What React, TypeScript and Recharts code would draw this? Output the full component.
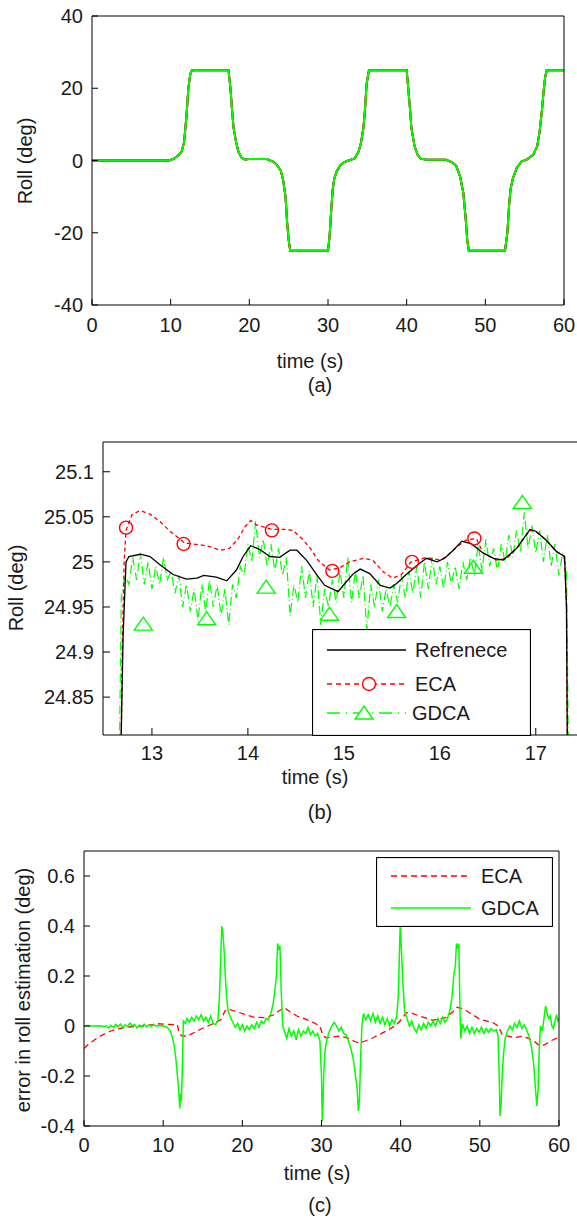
import React from "react";
import { ComposedChart, Line, XAxis, YAxis } from "recharts";

const FONT = "'Liberation Sans', Arial, Helvetica, sans-serif";
const RED = "#ff0000";
const GREEN = "#00ff00";

// ---------- (a) roll over the whole run (reference / ECA / GDCA overlap) ----------
const rollA: [number, number][] = [
  [0, 0], [9.8, 0], [10.5, 0.6], [11.0, 1.5], [11.4, 2.5], [11.7, 5], [12.0, 12],
  [12.25, 20], [12.5, 24], [12.7, 25], [17.35, 25], [17.6, 20], [17.8, 14], [18.0, 9],
  [18.3, 5.3], [18.6, 2.5], [19.0, 0.8], [19.4, 0.3], [20, 0.4], [22.2, 0.4], [23.0, -0.3],
  [23.5, -1.2], [24.0, -2.8], [24.3, -5.5], [24.6, -10], [24.8, -17], [25.0, -22], [25.2, -25],
  [30.0, -25], [30.2, -21], [30.4, -14], [30.6, -8], [30.8, -5], [31.1, -3], [31.5, -1.5],
  [32.0, -0.5], [32.6, 0], [33.4, 0.6], [33.9, 2.5], [34.2, 5], [34.5, 9], [34.7, 14],
  [34.9, 21], [35.2, 25], [40.0, 25], [40.2, 20], [40.4, 15], [40.6, 9], [41.0, 4],
  [41.4, 1.5], [41.8, 0.5], [42.5, 0.2], [45.0, 0.2], [45.8, -0.5], [46.3, -1.5], [46.8, -4.5],
  [47.2, -9], [47.5, -16], [47.7, -22], [47.9, -25], [52.5, -25], [52.8, -20], [53.0, -13],
  [53.2, -8], [53.5, -5], [54.0, -2], [54.6, -0.3], [55.3, 0.3], [56.1, 1.6], [56.6, 4],
  [56.9, 8], [57.2, 14], [57.4, 19], [57.6, 23], [57.8, 25], [60, 25],
];
const xTicksA = [0, 10, 20, 30, 40, 50, 60];
const yTicksA = [-40, -20, 0, 20, 40];

// ---------- (b) zoom on the first +25 deg plateau ----------
const refB: [number, number][] = [
  [12.66, 24.7], [12.7, 24.92], [12.73, 25.0], [12.76, 25.006], [12.88, 25.0085], [12.98, 25.006],
  [13.08, 24.997], [13.22, 24.986], [13.36, 24.981], [13.47, 24.982], [13.54, 24.985], [13.67, 24.983],
  [13.78, 24.979], [13.88, 24.991], [13.95, 25.006], [14.03, 25.018], [14.12, 25.014], [14.23, 25.006],
  [14.33, 25.005], [14.44, 25.013], [14.51, 25.013], [14.61, 25.002], [14.73, 24.984], [14.8, 24.974],
  [14.94, 24.967], [15.01, 24.976], [15.1, 24.987], [15.17, 24.992], [15.27, 24.987], [15.38, 24.974],
  [15.48, 24.971], [15.55, 24.976], [15.65, 24.986], [15.76, 24.996], [15.86, 25.004], [15.97, 25.0],
  [16.05, 25.004], [16.14, 25.013], [16.23, 25.023], [16.33, 25.02], [16.45, 25.01], [16.56, 25.004],
  [16.66, 25.002], [16.8, 25.015], [16.94, 25.036], [17.0, 25.034], [17.11, 25.024], [17.22, 25.011],
  [17.3, 25.006], [17.32, 24.95], [17.34, 24.6],
];
const ecaB: [number, number][] = [
  [12.66, 24.6], [12.69, 24.9], [12.71, 25.0], [12.73, 25.035], [12.79, 25.052], [12.875, 25.057],
  [12.98, 25.053], [13.08, 25.045], [13.19, 25.034], [13.34, 25.021], [13.5, 25.019], [13.6, 25.017],
  [13.71, 25.013], [13.81, 25.015], [13.9, 25.026], [13.97, 25.039], [14.03, 25.046], [14.09, 25.041],
  [14.25, 25.036], [14.4, 25.036], [14.47, 25.035], [14.58, 25.024], [14.65, 25.015], [14.73, 25.002],
  [14.85, 24.991], [14.95, 24.993], [15.06, 25.0], [15.2, 25.004], [15.3, 25.002], [15.41, 24.989],
  [15.51, 24.982], [15.6, 24.986], [15.7, 25.0], [15.86, 25.005], [16.0, 25.002], [16.07, 25.006],
  [16.16, 25.015], [16.27, 25.024], [16.38, 25.026], [16.45, 25.01], [16.59, 25.002], [16.7, 25.004],
  [16.8, 25.015], [16.94, 25.035], [17.0, 25.034], [17.11, 25.024], [17.2, 25.013], [17.3, 25.006],
  [17.32, 24.95], [17.34, 24.6],
];
const gdcaB: [number, number][] = [
  [12.64, 24.6], [12.68, 24.96], [12.72, 24.985], [12.76, 24.975], [12.8, 25.005], [12.84, 24.98],
  [12.88, 25.01], [12.92, 24.975], [12.96, 25.0], [13.0, 24.97], [13.04, 24.995], [13.08, 24.975],
  [13.12, 25.005], [13.16, 24.98], [13.2, 24.99], [13.24, 24.965], [13.28, 24.985], [13.32, 24.95],
  [13.36, 24.975], [13.4, 24.945], [13.44, 24.97], [13.48, 24.935], [13.52, 24.975], [13.56, 24.945],
  [13.6, 24.98], [13.64, 24.95], [13.68, 24.975], [13.72, 24.94], [13.76, 24.97], [13.8, 24.93],
  [13.84, 24.975], [13.88, 24.96], [13.92, 24.995], [13.96, 24.985], [14.0, 25.02], [14.04, 25.0],
  [14.08, 25.045], [14.12, 25.005], [14.16, 25.025], [14.2, 24.995], [14.24, 25.02], [14.28, 24.99],
  [14.32, 25.015], [14.36, 24.985], [14.4, 25.005], [14.44, 24.94], [14.48, 24.975], [14.52, 24.955],
  [14.56, 24.995], [14.6, 24.96], [14.64, 24.99], [14.68, 24.95], [14.72, 24.985], [14.76, 24.93],
  [14.8, 24.97], [14.84, 24.95], [14.88, 24.98], [14.92, 24.955], [14.96, 24.99], [15.0, 24.96],
  [15.04, 25.005], [15.08, 24.955], [15.12, 24.99], [15.16, 24.96], [15.2, 24.985], [15.24, 24.925],
  [15.28, 24.975], [15.32, 24.95], [15.36, 24.98], [15.4, 24.945], [15.44, 24.97], [15.48, 24.95],
  [15.52, 24.975], [15.56, 24.955], [15.6, 24.985], [15.64, 24.96], [15.68, 24.99], [15.72, 24.965],
  [15.76, 24.995], [15.8, 24.96], [15.84, 25.0], [15.88, 24.97], [15.92, 25.005], [15.96, 24.975],
  [16.0, 24.995], [16.04, 24.97], [16.08, 25.0], [16.12, 24.975], [16.16, 24.995], [16.2, 24.97],
  [16.24, 25.0], [16.28, 24.98], [16.32, 25.005], [16.36, 24.985], [16.4, 25.02], [16.44, 24.99],
  [16.48, 25.025], [16.52, 24.995], [16.56, 25.015], [16.6, 24.99], [16.64, 25.02], [16.68, 25.0],
  [16.72, 25.03], [16.76, 25.005], [16.8, 25.035], [16.84, 25.01], [16.88, 25.055], [16.92, 25.015],
  [16.96, 25.04], [17.0, 25.01], [17.04, 25.035], [17.08, 25.0], [17.12, 25.03], [17.16, 24.995],
  [17.2, 25.02], [17.24, 24.985], [17.28, 25.01], [17.32, 24.99], [17.36, 24.6],
];
// marker positions (circles on ECA, triangles on GDCA)
const ecaMarksB: [number, number][] = [
  [12.73, 25.038], [13.33, 25.02], [14.25, 25.035], [14.88, 24.99], [15.71, 25.0], [16.36, 25.026],
];
const gdcaMarksB: [number, number][] = [
  [12.91, 24.931], [13.57, 24.937], [14.19, 24.972], [14.85, 24.942], [15.55, 24.945], [16.35, 24.994],
  [16.86, 25.066],
];
const xTicksB = [13, 14, 15, 16, 17];
const yTicksB = [24.85, 24.9, 24.95, 25, 25.05, 25.1];

// ---------- (c) error in roll estimation ----------
const ecaC: [number, number][] = [
  [0, -0.09], [0.5, -0.075], [1, -0.063], [1.7, -0.047], [2.5, -0.033], [3.4, -0.02], [4.2, -0.012],
  [5, -0.007], [6, -0.003], [7.6, 0.0], [9.3, 0.009], [10.5, 0.007], [11.8, 0.005], [12.0, -0.03],
  [12.4, -0.04], [13.0, -0.04], [14.0, -0.025], [14.7, -0.013], [16.0, 0.005], [17.3, 0.025],
  [17.8, 0.06], [18.2, 0.068], [19.0, 0.06], [19.8, 0.052], [21.5, 0.035], [22.9, 0.033], [24.0, 0.045],
  [24.6, 0.06], [25.3, 0.073], [26.0, 0.058], [26.9, 0.04], [28.6, 0.02], [29.8, 0.0], [30.2, -0.04],
  [30.6, -0.047], [32.3, -0.04], [33.5, -0.05], [34.2, -0.062], [34.8, -0.068], [35.5, -0.06],
  [36.5, -0.047], [38.2, -0.02], [39.5, 0.005], [40.2, 0.03], [40.7, 0.053], [41.5, 0.05], [42.4, 0.04],
  [44.1, 0.023], [45.8, 0.035], [46.7, 0.06], [47.1, 0.075], [47.6, 0.072], [48.35, 0.06], [50.0, 0.027],
  [51.7, 0.013], [52.3, 0.0], [52.8, -0.033], [54.3, -0.047], [55.5, -0.04], [56.8, -0.06], [57.6, -0.08],
  [58.2, -0.075], [58.9, -0.06], [60, -0.045],
];
const gdcaC: [number, number][] = [
  [0, 0.0], [0.5, 0.002], [1, 0.0], [1.5, 0.0], [2, 0.001], [2.5, -0.002], [2.8, 0.0], [3.1, -0.008],
  [3.4, 0.003], [3.7, -0.006], [4.0, 0.006], [4.3, -0.004], [4.6, 0.008], [4.9, -0.007], [5.2, 0.005],
  [5.5, -0.002], [5.8, 0.012], [6.1, 0.0], [6.4, 0.006], [6.7, -0.008], [7.0, 0.004], [7.3, -0.005],
  [7.6, 0.007], [7.9, -0.003], [8.2, 0.004], [8.5, -0.002], [8.8, 0.005], [9.1, 0.0], [9.5, 0.002],
  [10.0, 0.0], [10.5, -0.005], [10.9, -0.02], [11.2, -0.05], [11.4, -0.08], [11.6, -0.13], [11.8, -0.2],
  [11.95, -0.25], [12.1, -0.33], [12.2, -0.27], [12.3, -0.3], [12.4, -0.2], [12.55, 0.02], [12.8, 0.01],
  [13.0, 0.03], [13.3, 0.015], [13.6, 0.035], [13.9, 0.02], [14.2, 0.04], [14.5, 0.025], [14.8, 0.045],
  [15.1, 0.02], [15.4, 0.035], [15.7, 0.015], [16.0, 0.04], [16.3, 0.01], [16.6, 0.005], [16.9, 0.02],
  [17.1, 0.11], [17.3, 0.3], [17.4, 0.4], [17.55, 0.37], [17.7, 0.3], [17.85, 0.2], [18.0, 0.12],
  [18.2, 0.06], [18.5, 0.035], [18.8, 0.015], [19.1, -0.005], [19.4, 0.01], [19.7, -0.015], [20.0, 0.005],
  [20.3, -0.02], [20.6, 0.0], [20.9, -0.015], [21.2, 0.005], [21.5, -0.01], [21.8, 0.015], [22.1, -0.005],
  [22.4, 0.02], [22.7, 0.01], [23.0, 0.03], [23.3, 0.025], [23.6, 0.05], [23.9, 0.09], [24.1, 0.14],
  [24.3, 0.2], [24.45, 0.33], [24.6, 0.31], [24.75, 0.32], [24.9, 0.15], [25.1, 0.0], [25.3, -0.02],
  [25.6, -0.05], [25.9, -0.01], [26.2, -0.04], [26.5, -0.02], [26.8, -0.055], [27.1, -0.015], [27.4, -0.04],
  [27.7, -0.02], [28.0, -0.03], [28.3, -0.005], [28.6, -0.035], [28.9, -0.02], [29.2, -0.04], [29.5, -0.03],
  [29.8, -0.06], [30.0, -0.2], [30.1, -0.38], [30.2, -0.3], [30.3, -0.18], [30.45, -0.1], [30.7, -0.05],
  [31.0, -0.02], [31.3, 0.0], [31.6, 0.015], [31.9, 0.0], [32.2, -0.02], [32.5, -0.005], [32.8, -0.03],
  [33.1, -0.035], [33.4, -0.06], [33.7, -0.09], [34.0, -0.13], [34.3, -0.2], [34.5, -0.25], [34.65, -0.34],
  [34.8, -0.29], [34.95, -0.12], [35.1, 0.0], [35.3, 0.05], [35.6, 0.025], [35.9, 0.045], [36.2, 0.02],
  [36.5, 0.05], [36.8, 0.015], [37.1, 0.04], [37.4, 0.01], [37.7, 0.035], [38.0, 0.005], [38.3, 0.03],
  [38.6, 0.0], [38.9, 0.025], [39.2, 0.01], [39.5, 0.04], [39.7, 0.12], [39.85, 0.3], [39.95, 0.42],
  [40.1, 0.3], [40.3, 0.16], [40.5, 0.06], [40.8, 0.03], [41.1, 0.0], [41.4, 0.02], [41.7, -0.01],
  [42.0, -0.025], [42.3, 0.005], [42.6, -0.015], [42.9, 0.01], [43.2, -0.01], [43.5, 0.015], [43.8, 0.0],
  [44.1, 0.02], [44.4, 0.0], [44.7, 0.03], [45.0, 0.01], [45.3, 0.035], [45.6, 0.015], [45.9, 0.03],
  [46.2, 0.06], [46.5, 0.12], [46.7, 0.2], [46.9, 0.24], [47.05, 0.33], [47.25, 0.31], [47.35, 0.33],
  [47.5, 0.05], [47.6, -0.05], [47.8, 0.01], [48.1, -0.02], [48.4, 0.0], [48.7, -0.03], [49.0, -0.005],
  [49.3, -0.03], [49.6, -0.01], [49.9, -0.025], [50.2, -0.005], [50.5, -0.03], [50.8, -0.01], [51.1, -0.025],
  [51.4, -0.01], [51.8, -0.02], [52.1, -0.015], [52.3, -0.04], [52.45, -0.2], [52.55, -0.36], [52.7, -0.3],
  [52.85, -0.18], [53.0, -0.11], [53.2, -0.05], [53.5, -0.02], [53.8, 0.0], [54.1, -0.015], [54.4, 0.01],
  [54.7, -0.005], [55.0, 0.02], [55.3, -0.01], [55.6, 0.005], [55.9, -0.015], [56.2, -0.04], [56.5, -0.08],
  [56.8, -0.15], [57.0, -0.24], [57.2, -0.32], [57.35, -0.26], [57.5, -0.1], [57.65, 0.0], [57.9, -0.02],
  [58.1, 0.03], [58.3, 0.08], [58.5, 0.05], [58.7, 0.03], [58.9, 0.04], [59.1, 0.0], [59.3, -0.01],
  [59.5, 0.02], [59.7, 0.045], [59.85, 0.02], [60, 0.03],
];
const xTicksC = [0, 10, 20, 30, 40, 50, 60];
const yTicksC = [-0.4, -0.2, 0, 0.2, 0.4, 0.6];

const pts = (arr: [number, number][]) => arr.map(([t, v]) => ({ t, v }));

const tickStyle = { fill: "#1a1a1a", fontSize: 20, fontFamily: FONT };
const black = { stroke: "#000", strokeWidth: 1 };

// box frame with inward ticks on all four sides
// (top / right axes get a 1px size: Recharts skips axes of zero size)
const frame = (
  xTicks: number[],
  xDomain: [number, number],
  yTicks: number[],
  yDomain: [number, number],
  yWidth: number,
  len: number,
  xMargin: number
) => [
  <XAxis
    key="xb"
    xAxisId="b"
    type="number"
    dataKey="t"
    domain={xDomain}
    ticks={xTicks}
    interval={0}
    allowDataOverflow
    height={25}
    tickSize={-len}
    tickMargin={xMargin}
    axisLine={black}
    tickLine={black}
    tick={tickStyle}
  />,
  <XAxis
    key="xt"
    xAxisId="t"
    orientation="top"
    type="number"
    dataKey="t"
    domain={xDomain}
    ticks={xTicks}
    interval={0}
    allowDataOverflow
    height={1}
    tickSize={-len}
    axisLine={black}
    tickLine={black}
    tick={false}
  />,
  <YAxis
    key="yl"
    yAxisId="l"
    type="number"
    domain={yDomain}
    ticks={yTicks}
    interval={0}
    allowDataOverflow
    width={yWidth}
    tickSize={-len}
    tickMargin={9 + len}
    axisLine={black}
    tickLine={black}
    tick={tickStyle}
  />,
  <YAxis
    key="yr"
    yAxisId="r"
    orientation="right"
    type="number"
    domain={yDomain}
    ticks={yTicks}
    interval={0}
    allowDataOverflow
    width={1}
    tickSize={-len}
    axisLine={black}
    tickLine={black}
    tick={false}
  />,
];

const Txt = ({ x, y, text, rot }: { x: number; y: number; text: string; rot?: boolean }) => (
  <div
    style={{
      position: "absolute",
      left: x,
      top: y,
      transform: `translate(-50%, -50%)${rot ? " rotate(-90deg)" : ""}`,
      whiteSpace: "nowrap",
      fontSize: 20,
      lineHeight: 1,
      color: "#1a1a1a",
      fontFamily: FONT,
    }}
  >
    {text}
  </div>
);

const triPath = (cx: number, cy: number) =>
  `M${cx - 9},${cy + 6} L${cx + 9},${cy + 6} L${cx},${cy - 7} Z`;

const circleDot = (p: any) => (
  <circle key={`c-${p.index}`} cx={p.cx} cy={p.cy} r={6.5} fill="none" stroke={RED} strokeWidth={1.4} />
);
const triDot = (p: any) => (
  <path key={`t-${p.index}`} d={triPath(p.cx, p.cy)} fill="none" stroke={GREEN} strokeWidth={1.4} />
);

const LegendB = () => (
  <svg width={219} height={107} style={{ position: "absolute", left: 312, top: 629 }}>
    <rect x={0.5} y={0.5} width={218} height={106} fill="#fff" stroke="#000" strokeWidth={1.2} />
    <line x1={15} y1={21} x2={94} y2={21} stroke="#000" strokeWidth={1.5} />
    <text x={103} y={28} fontSize={20} fontFamily={FONT} fill="#1a1a1a">Refrenece</text>
    <line x1={15} y1={55} x2={94} y2={55} stroke={RED} strokeWidth={1.4} strokeDasharray="5 4" />
    <circle cx={57} cy={55} r={6.5} fill="#fff" stroke={RED} strokeWidth={1.4} />
    <text x={103} y={62} fontSize={20} fontFamily={FONT} fill="#1a1a1a">ECA</text>
    <line x1={15} y1={84} x2={94} y2={84} stroke={GREEN} strokeWidth={1.4} strokeDasharray="13 6 1 6" />
    <path d={triPath(52, 84)} fill="#fff" stroke={GREEN} strokeWidth={1.4} />
    <text x={100} y={91} fontSize={20} fontFamily={FONT} fill="#1a1a1a">GDCA</text>
  </svg>
);

const LegendC = () => (
  <svg width={177} height={70} style={{ position: "absolute", left: 376, top: 857 }}>
    <rect x={0.5} y={0.5} width={176} height={69} fill="#fff" stroke="#000" strokeWidth={1.2} />
    <line x1={15} y1={19} x2={95} y2={19} stroke={RED} strokeWidth={1.4} strokeDasharray="6 4" />
    <text x={105} y={26} fontSize={20} fontFamily={FONT} fill="#1a1a1a">ECA</text>
    <line x1={15} y1={51} x2={95} y2={51} stroke={GREEN} strokeWidth={1.4} />
    <text x={105} y={58} fontSize={20} fontFamily={FONT} fill="#1a1a1a">GDCA</text>
  </svg>
);

// series drawn on the bottom/left axes; one per chart is tied to top/right so those axes get a domain
const line = (key: string, data: [number, number][], stroke: string, extra: any = {}) => (
  <Line
    key={key}
    xAxisId="b"
    yAxisId="l"
    data={pts(data)}
    dataKey="v"
    type="linear"
    stroke={stroke}
    strokeWidth={1.4}
    dot={false}
    activeDot={false}
    isAnimationActive={false}
    {...extra}
  />
);
const onTR = { xAxisId: "t", yAxisId: "r" };

export default function App() {
  return (
    <div
      style={{
        position: "absolute",
        left: 0,
        top: 0,
        width: 577,
        height: 1220,
        overflow: "hidden",
        background: "#fff",
        fontFamily: FONT,
      }}
    >
      {/* (a) */}
      <div style={{ position: "absolute", left: 0, top: 0 }}>
        <ComposedChart width={577} height={400} margin={{ top: 15, right: 12, left: 47, bottom: 70 }}>
          {frame(xTicksA, [0, 60], yTicksA, [-40, 40], 45, 6, 19)}
          {line("refA", rollA, "#000", { strokeWidth: 2, ...onTR })}
          {line("ecaA", rollA, RED, { strokeWidth: 2 })}
          {line("gdcaA", rollA, GREEN, { strokeWidth: 2 })}
        </ComposedChart>
      </div>
      <Txt x={25} y={161} text="Roll (deg)" rot />
      <Txt x={310} y={361} text="time (s)" />
      <Txt x={320} y={385} text="(a)" />

      {/* (b) */}
      <div style={{ position: "absolute", left: 0, top: 400 }}>
        <ComposedChart width={600} height={420} margin={{ top: 41, right: 21, left: 33, bottom: 60 }}>
          {frame(xTicksB, [12.49, 17.44], yTicksB, [24.808, 25.133], 70, 7, 18)}
          {line("gdcaB", gdcaB, GREEN, { strokeWidth: 1.2, strokeDasharray: "9 3 1 3" })}
          {line("ecaB", ecaB, RED, { strokeWidth: 1.3, strokeDasharray: "4 3" })}
          {line("refB", refB, "#000", { strokeWidth: 1.3, ...onTR })}
          {line("ecaMarksB", ecaMarksB, "none", { dot: circleDot })}
          {line("gdcaMarksB", gdcaMarksB, "none", { dot: triDot })}
        </ComposedChart>
      </div>
      <LegendB />
      <Txt x={16} y={588} text="Roll (deg)" rot />
      <Txt x={315} y={777} text="time (s)" />
      <Txt x={320} y={812} text="(b)" />

      {/* (c) */}
      <div style={{ position: "absolute", left: 0, top: 830 }}>
        <ComposedChart width={577} height={390} margin={{ top: 20, right: 17, left: 24, bottom: 69 }}>
          {frame(xTicksC, [0, 60], yTicksC, [-0.4, 0.7], 60, 6, 18)}
          {line("ecaC", ecaC, RED, { strokeWidth: 1.3, strokeDasharray: "6 4", ...onTR })}
          {line("gdcaC", gdcaC, GREEN, { strokeWidth: 1.5 })}
        </ComposedChart>
      </div>
      <LegendC />
      <Txt x={23} y={990} text="error in roll estimation (deg)" rot />
      <Txt x={317} y={1173} text="time (s)" />
      <Txt x={320} y={1205} text="(c)" />
    </div>
  );
}
